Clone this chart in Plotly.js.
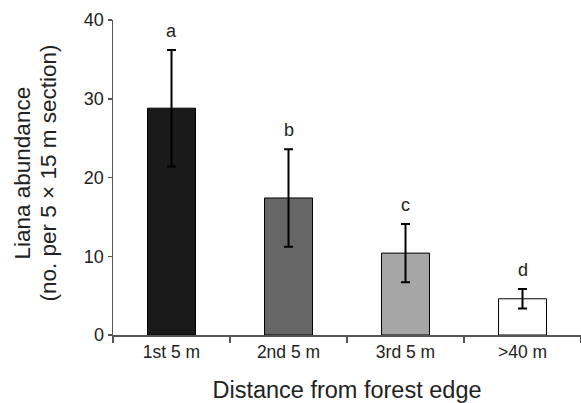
<!DOCTYPE html>
<html>
<head>
<meta charset="utf-8">
<script src="https://cdn.plot.ly/plotly-3.0.1.min.js"></script>
<style>html,body{margin:0;padding:0;background:#fff;}#chart{width:581px;height:403px;}</style>
</head>
<body>
<div id="chart"></div>
<script>
const categories = ["1st 5 m", "2nd 5 m", "3rd 5 m", "&gt;40 m"];
const values = [28.8, 17.4, 10.4, 4.6];
const errors = [7.4, 6.2, 3.7, 1.25];
const letters = ["a", "b", "c", "d"];
const barColors = ["#1a1a1a", "#666666", "#a6a6a6", "#ffffff"];
const yTicks = [0, 10, 20, 30, 40];
const yTitleLines = ["Liana abundance", "(no. per 5 × 15 m section)"];
const xTitle = "Distance from forest edge";

const font = "Liberation Sans, Arial, sans-serif";

const trace = {
  type: "bar",
  x: categories,
  y: values,
  width: 0.41,
  marker: {color: barColors, line: {color: "#000", width: 1}},
  error_y: {type: "data", array: errors, visible: true, color: "#000", thickness: 2, width: 4.5},
  hoverinfo: "none"
};

const annotations = categories.map((c, i) => ({
  x: c, y: values[i] + errors[i], xref: "x", yref: "y",
  text: letters[i], showarrow: false, yanchor: "bottom", yshift: 7,
  font: {family: font, size: 18, color: "#222"}
}));

// y title lines (rotated)
const yTitleShifts = [-91, -65];
yTitleLines.forEach((t, i) => {
  annotations.push({
    x: 0, y: 0.5, xref: "paper", yref: "paper",
    xanchor: "center", yanchor: "middle",
    xshift: yTitleShifts[i], yshift: 4,
    text: t, textangle: -90, showarrow: false,
    font: {family: font, size: 22.5, color: "#222"}
  });
});

const layout = {
  width: 581, height: 403,
  margin: {l: 113, r: 0, t: 20, b: 68},
  paper_bgcolor: "#fff", plot_bgcolor: "#fff",
  showlegend: false,
  font: {family: font, color: "#222"},
  xaxis: {
    type: "category",
    range: [-0.5, 3.5],
    tickson: "boundaries",
    ticks: "outside", ticklen: 6, tickwidth: 1.5, tickcolor: "#555",
    showline: true, linecolor: "#555", linewidth: 1.5,
    showgrid: false, zeroline: false,
    tickfont: {family: font, size: 17.5, color: "#222"},
    title: {text: xTitle, font: {family: font, size: 23.5, color: "#222"}, standoff: 22}
  },
  yaxis: {
    range: [0, 40],
    tickvals: yTicks,
    ticks: "outside", ticklen: 4, tickwidth: 1.5, tickcolor: "#555",
    showline: true, linecolor: "#555", linewidth: 1.5,
    showgrid: false, zeroline: false,
    tickfont: {family: font, size: 18, color: "#222"}
  },
  annotations: annotations
};

Plotly.newPlot("chart", [trace], layout, {displayModeBar: false, staticPlot: true});
</script>
</body>
</html>
